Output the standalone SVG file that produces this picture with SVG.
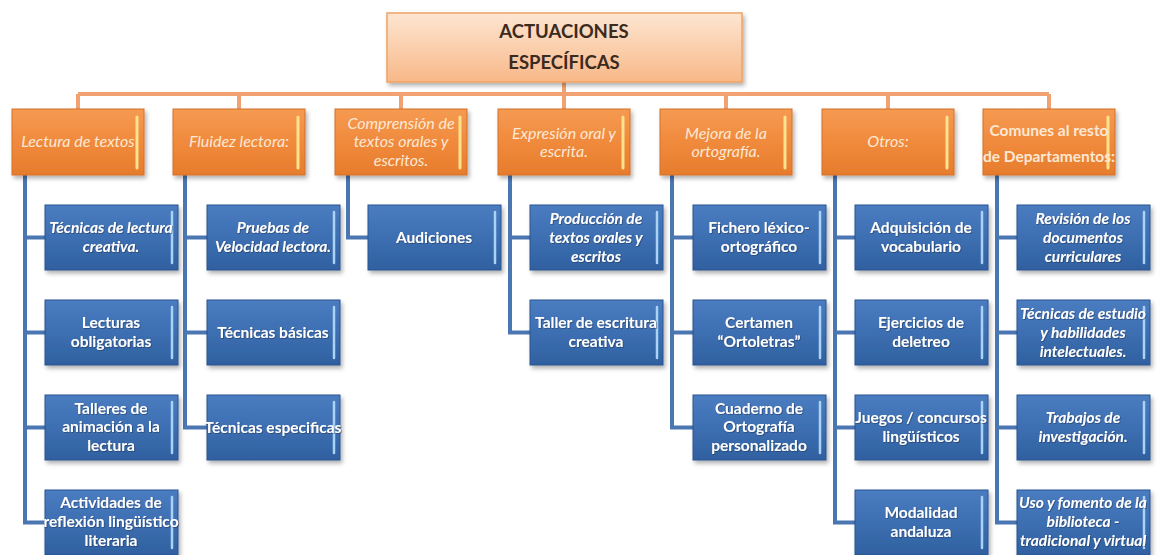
<svg xmlns="http://www.w3.org/2000/svg" width="1159" height="555" viewBox="0 0 1159 555">
<defs>
<linearGradient id="gTop" x1="0" y1="0" x2="0" y2="1"><stop offset="0" stop-color="#fde6d2"/><stop offset="1" stop-color="#f8b888"/></linearGradient>
<linearGradient id="gOr" x1="0" y1="0" x2="0" y2="1"><stop offset="0" stop-color="#f59a52"/><stop offset="0.5" stop-color="#f08a3c"/><stop offset="1" stop-color="#e67c2c"/></linearGradient>
<linearGradient id="gBl" x1="0" y1="0" x2="0" y2="1"><stop offset="0" stop-color="#4a7cc0"/><stop offset="0.5" stop-color="#3d6fb2"/><stop offset="1" stop-color="#2f609f"/></linearGradient>
<filter id="sh" x="-10%" y="-10%" width="125%" height="135%"><feDropShadow dx="2" dy="3" stdDeviation="2" flood-color="#000" flood-opacity="0.3"/></filter>
<filter id="ts" x="-5%" y="-20%" width="110%" height="150%"><feDropShadow dx="0.8" dy="0.8" stdDeviation="0.4" flood-color="#1a2f50" flood-opacity="0.6"/></filter>
</defs>
<style>
.top{fill:url(#gTop);stroke:#f0a264;stroke-width:1.5}
.cat{fill:url(#gOr);stroke:#d4702a;stroke-width:1}
.ch{fill:url(#gBl);stroke:#2a5590;stroke-width:1}
.hlo{fill:none;stroke:#fbe28e;stroke-width:3;stroke-linecap:round}
.hlb{fill:none;stroke:#a9d2f5;stroke-width:2.5;stroke-linecap:round}
.tt{font-family:Lato,"Liberation Sans",sans-serif;font-size:18.5px;font-weight:bold;fill:#3b2a1e;text-anchor:middle}
.ct{font-family:Lato,"Liberation Sans",sans-serif;font-size:16px;font-style:italic;fill:#fde8d4;text-anchor:middle}
.ctb{font-family:Lato,"Liberation Sans",sans-serif;font-size:15.5px;font-weight:bold;fill:#fde8d4;text-anchor:middle}
.t{font-family:Lato,"Liberation Sans",sans-serif;font-size:15.5px;font-weight:bold;fill:#ffffff;text-anchor:middle;filter:url(#ts)}
.ti{font-family:Lato,"Liberation Sans",sans-serif;font-size:15.5px;font-weight:bold;font-style:italic;fill:#ffffff;text-anchor:middle;filter:url(#ts)}
.ob{fill:none;stroke:#f2a272;stroke-width:4}
.bl{fill:none;stroke:#4a76b2;stroke-width:4}
</style>
<g id="connectors">
<path class="ob" d="M564 82V94M78 94H1049M78 94V109M239 94V109M401 94V109M564 94V109M726 94V109M888 94V109M1049 94V109"/>
<path class="bl" d="M25 175V522.5H45M25 237.5H45M25 332.5H45M25 427.5H45"/>
<path class="bl" d="M185 175V427.5H207M185 237.5H207M185 332.5H207"/>
<path class="bl" d="M348 175V237.5H368"/>
<path class="bl" d="M510 175V332.5H530M510 237.5H530"/>
<path class="bl" d="M672 175V427.5H693M672 237.5H693M672 332.5H693"/>
<path class="bl" d="M835 175V522.5H855M835 237.5H855M835 332.5H855M835 427.5H855"/>
<path class="bl" d="M997 175V522.5H1017M997 237.5H1017M997 332.5H1017M997 427.5H1017"/>
</g>
<g id="root"><rect class="top" x="387" y="13" width="355" height="69" filter="url(#sh)"/><text class="tt" x="564" y="38">ACTUACIONES</text><text class="tt" x="564" y="69">ESPECÍFICAS</text></g>
<g id="cat1"><rect class="cat" x="12" y="109" width="132" height="66" filter="url(#sh)"/><path class="hlo" d="M137 117V168"/><text class="ct" x="78" y="147">Lectura de textos</text></g>
<g id="cat2"><rect class="cat" x="173" y="109" width="132" height="66" filter="url(#sh)"/><path class="hlo" d="M298 117V168"/><text class="ct" x="239" y="147">Fluidez lectora:</text></g>
<g id="cat3"><rect class="cat" x="335" y="109" width="132" height="66" filter="url(#sh)"/><path class="hlo" d="M460 117V168"/><text class="ct" x="401" y="129">Comprensión de</text><text class="ct" x="401" y="147">textos orales y</text><text class="ct" x="401" y="166">escritos.</text></g>
<g id="cat4"><rect class="cat" x="498" y="109" width="132" height="66" filter="url(#sh)"/><path class="hlo" d="M623 117V168"/><text class="ct" x="564" y="139">Expresión oral y</text><text class="ct" x="564" y="157">escrita.</text></g>
<g id="cat5"><rect class="cat" x="660" y="109" width="132" height="66" filter="url(#sh)"/><path class="hlo" d="M785 117V168"/><text class="ct" x="726" y="139">Mejora de la</text><text class="ct" x="726" y="157">ortografía.</text></g>
<g id="cat6"><rect class="cat" x="822" y="109" width="132" height="66" filter="url(#sh)"/><path class="hlo" d="M947 117V168"/><text class="ct" x="888" y="147">Otros:</text></g>
<g id="cat7"><rect class="cat" x="983" y="109" width="132" height="66" filter="url(#sh)"/><path class="hlo" d="M1108 117V168"/><text class="ctb" x="1049" y="136">Comunes al resto</text><text class="ctb" x="1049" y="162">de Departamentos:</text></g>

<g id="c1a"><rect class="ch" x="45" y="205" width="133" height="65" filter="url(#sh)"/><path class="hlb" d="M172 212V263"/><text class="ti" x="111" y="233">Técnicas de lectura</text><text class="ti" x="111" y="252">creativa.</text></g>
<g id="c1b"><rect class="ch" x="45" y="300" width="133" height="65" filter="url(#sh)"/><path class="hlb" d="M172 307V358"/><text class="t" x="111" y="328">Lecturas</text><text class="t" x="111" y="347">obligatorias</text></g>
<g id="c1c"><rect class="ch" x="45" y="395" width="133" height="65" filter="url(#sh)"/><path class="hlb" d="M172 402V453"/><text class="t" x="111" y="414">Talleres de</text><text class="t" x="111" y="432">animación a la</text><text class="t" x="111" y="451">lectura</text></g>
<g id="c1d"><rect class="ch" x="45" y="490" width="133" height="65" filter="url(#sh)"/><path class="hlb" d="M172 497V548"/><text class="t" x="111" y="508">Actividades de</text><text class="t" x="111" y="527">reflexión lingüístico</text><text class="t" x="111" y="546">literaria</text></g>

<g id="c2a"><rect class="ch" x="207" y="205" width="133" height="65" filter="url(#sh)"/><path class="hlb" d="M334 212V263"/><text class="ti" x="273" y="233">Pruebas de</text><text class="ti" x="273" y="252">Velocidad lectora.</text></g>
<g id="c2b"><rect class="ch" x="207" y="300" width="133" height="65" filter="url(#sh)"/><path class="hlb" d="M334 307V358"/><text class="t" x="273" y="338">Técnicas básicas</text></g>
<g id="c2c"><rect class="ch" x="207" y="395" width="133" height="65" filter="url(#sh)"/><path class="hlb" d="M334 402V453"/><text class="t" x="273" y="433">Técnicas especificas</text></g>

<g id="c3a"><rect class="ch" x="368" y="205" width="133" height="65" filter="url(#sh)"/><path class="hlb" d="M495 212V263"/><text class="t" x="434" y="243">Audiciones</text></g>

<g id="c4a"><rect class="ch" x="530" y="205" width="133" height="65" filter="url(#sh)"/><path class="hlb" d="M657 212V263"/><text class="ti" x="596" y="224">Producción de</text><text class="ti" x="596" y="243">textos orales y</text><text class="ti" x="596" y="262">escritos</text></g>
<g id="c4b"><rect class="ch" x="530" y="300" width="133" height="65" filter="url(#sh)"/><path class="hlb" d="M657 307V358"/><text class="t" x="596" y="328">Taller de escritura</text><text class="t" x="596" y="347">creativa</text></g>

<g id="c5a"><rect class="ch" x="693" y="205" width="133" height="65" filter="url(#sh)"/><path class="hlb" d="M820 212V263"/><text class="t" x="759" y="233">Fichero léxico-</text><text class="t" x="759" y="252">ortográfico</text></g>
<g id="c5b"><rect class="ch" x="693" y="300" width="133" height="65" filter="url(#sh)"/><path class="hlb" d="M820 307V358"/><text class="t" x="759" y="328">Certamen</text><text class="t" x="759" y="347">“Ortoletras”</text></g>
<g id="c5c"><rect class="ch" x="693" y="395" width="133" height="65" filter="url(#sh)"/><path class="hlb" d="M820 402V453"/><text class="t" x="759" y="414">Cuaderno de</text><text class="t" x="759" y="432">Ortografía</text><text class="t" x="759" y="451">personalizado</text></g>

<g id="c6a"><rect class="ch" x="855" y="205" width="133" height="65" filter="url(#sh)"/><path class="hlb" d="M982 212V263"/><text class="t" x="921" y="233">Adquisición de</text><text class="t" x="921" y="252">vocabulario</text></g>
<g id="c6b"><rect class="ch" x="855" y="300" width="133" height="65" filter="url(#sh)"/><path class="hlb" d="M982 307V358"/><text class="t" x="921" y="328">Ejercicios de</text><text class="t" x="921" y="347">deletreo</text></g>
<g id="c6c"><rect class="ch" x="855" y="395" width="133" height="65" filter="url(#sh)"/><path class="hlb" d="M982 402V453"/><text class="t" x="921" y="423">Juegos / concursos</text><text class="t" x="921" y="442">lingüísticos</text></g>
<g id="c6d"><rect class="ch" x="855" y="490" width="133" height="65" filter="url(#sh)"/><path class="hlb" d="M982 497V548"/><text class="t" x="921" y="518">Modalidad</text><text class="t" x="921" y="537">andaluza</text></g>

<g id="c7a"><rect class="ch" x="1017" y="205" width="133" height="65" filter="url(#sh)"/><path class="hlb" d="M1144 212V263"/><text class="ti" x="1083" y="224">Revisión de los</text><text class="ti" x="1083" y="243">documentos</text><text class="ti" x="1083" y="262">curriculares</text></g>
<g id="c7b"><rect class="ch" x="1017" y="300" width="133" height="65" filter="url(#sh)"/><path class="hlb" d="M1144 307V358"/><text class="ti" x="1083" y="319">Técnicas de estudio</text><text class="ti" x="1083" y="338">y habilidades</text><text class="ti" x="1083" y="357">intelectuales.</text></g>
<g id="c7c"><rect class="ch" x="1017" y="395" width="133" height="65" filter="url(#sh)"/><path class="hlb" d="M1144 402V453"/><text class="ti" x="1083" y="423">Trabajos de</text><text class="ti" x="1083" y="442">investigación.</text></g>
<g id="c7d"><rect class="ch" x="1017" y="490" width="133" height="65" filter="url(#sh)"/><path class="hlb" d="M1144 497V548"/><text class="ti" x="1083" y="508">Uso y fomento de la</text><text class="ti" x="1083" y="527">biblioteca -</text><text class="ti" x="1083" y="546">tradicional y virtual</text></g>
</svg>
